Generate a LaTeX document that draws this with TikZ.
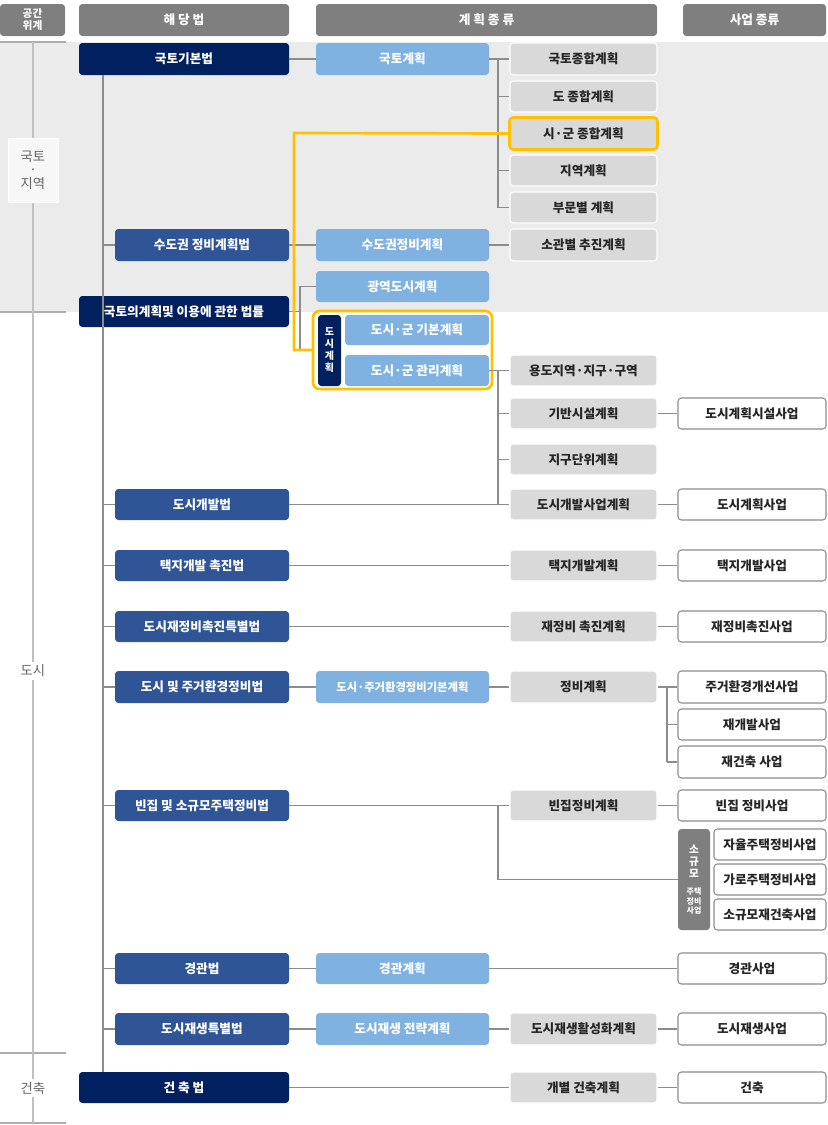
\documentclass[tikz,border=0pt]{standalone}
\usepackage{fontspec}
\setmainfont{Noto Sans CJK KR}
\begin{document}
\begin{tikzpicture}[x=0.75pt,y=-0.75pt,
 base/.style={rounded corners=2.5pt,inner sep=0pt,align=center,font=\bfseries\fontsize{9.5}{11}\selectfont},
 hdr/.style={base,fill=hdrgray,text=white},
 lawA/.style={base,fill=navy,text=white},
 lawB/.style={base,fill=midblue,text=white},
 planA/.style={base,fill=lightblue,text=white},
 planB/.style={base,fill=planfill,text=black!85,draw=white,line width=0.8pt},
 biz/.style={base,fill=white,draw=bizgray,line width=0.8pt,text=black!85},
 conn/.style={draw=conngray,line width=1.3pt},
 ]
\definecolor{hdrgray}{HTML}{7F7F7F}
\definecolor{navy}{HTML}{002060}
\definecolor{midblue}{HTML}{2F5597}
\definecolor{lightblue}{HTML}{7FB1E1}
\definecolor{planfill}{HTML}{D9D9D9}
\definecolor{bizgray}{HTML}{8C8C8C}
\definecolor{conngray}{HTML}{8C8C8C}
\definecolor{band}{HTML}{EBEBEB}
\definecolor{gold}{HTML}{FFC000}
\newcommand\bx[7]{\node[#2,minimum width=\fpeval{(#5-#3)*0.75}pt,minimum height=\fpeval{(#6-#4)*0.75}pt] (#1) at ({(#3+#5)/2},{(#4+#6)/2}) {#7};}
\useasboundingbox (0,0) rectangle (828,1125);
\fill[band] (0,42) rectangle (828,312);
% left column
\draw[conngray!70,line width=0.8pt] (0,42)--(66,42) (0,312)--(66,312) (0,1053)--(66,1053) (0,1123)--(66,1123);
\draw[conngray!55,line width=1pt] (33,42)--(33,1123);
\node[fill=white!60!band,draw=white,inner sep=0pt,minimum width=37.5pt,minimum height=48pt,align=center,text=black!60,font=\fontsize{10}{12}\selectfont] (lvl1) at (33,170) {국토\\[-2pt]·\\[-2pt]지역};
\node[fill=white,inner sep=2pt,text=black!60,font=\fontsize{10}{12}\selectfont] (lvl2) at (33,671) {도시};
\node[fill=white,inner sep=2pt,text=black!60,font=\fontsize{10}{12}\selectfont] (lvl3) at (33,1088) {건축};
% headers
\bx{h0}{hdr,font=\bfseries\fontsize{8}{9}\selectfont}{0}{4}{65}{36}{공간\\위계}
\bx{h1}{hdr}{79}{4}{289}{36}{해 당 법}
\bx{h2}{hdr}{316}{4}{657}{36}{계 획 종 류}
\bx{h3}{hdr}{683}{4}{826}{36}{사업 종류}
% laws
\bx{L1}{lawA}{79}{43}{289}{75}{국토기본법}
\bx{L2}{lawB}{115}{229}{289}{261}{수도권 정비계획법}
\bx{L3}{lawA}{79}{296}{289}{327}{국토의계획및 이용에 관한 법률}
\bx{L4}{lawB}{115}{489}{289}{520}{도시개발법}
\bx{L5}{lawB}{115}{550}{289}{581}{택지개발 촉진법}
\bx{L6}{lawB}{115}{611}{289}{642}{도시재정비촉진특별법}
\bx{L7}{lawB}{115}{671}{289}{703}{도시 및 주거환경정비법}
\bx{L8}{lawB}{115}{790}{289}{821}{빈집 및 소규모주택정비법}
\bx{L9}{lawB}{115}{953}{289}{984}{경관법}
\bx{L10}{lawB}{115}{1013}{289}{1045}{도시재생특별법}
\bx{L11}{lawA}{79}{1072}{289}{1103}{건 축 법}
% plan col 1
\bx{P1}{planA}{316}{43}{489}{75}{국토계획}
\bx{P2}{planA}{316}{229}{489}{261}{수도권정비계획}
\bx{P3}{planA}{316}{271}{489}{302}{광역도시계획}
\bx{P4}{planA}{345}{315}{489}{345}{도시·군 기본계획}
\bx{P5}{planA}{345}{355}{489}{386}{도시·군 관리계획}
\bx{P6}{planA,font=\bfseries\fontsize{8.5}{10}\selectfont}{316}{671}{489}{703}{도시·주거환경정비기본계획}
\bx{P7}{planA}{316}{953}{489}{984}{경관계획}
\bx{P8}{planA}{316}{1013}{489}{1045}{도시재생 전략계획}
\bx{DS}{lawA,font=\bfseries\fontsize{7.5}{9}\selectfont}{318}{315}{341}{386}{도\\시\\계\\획}
\draw[gold,line width=2pt,rounded corners=5pt] (313,311) rectangle (492,389);
\coordinate (Y) at (313,350);
% plan col 2
\bx{Q1}{planB}{510}{43}{657}{75}{국토종합계획}
\bx{Q2}{planB}{510}{81}{657}{112}{도 종합계획}
\bx{Q3}{planB}{510}{118}{657}{149}{시·군 종합계획}
\draw[gold,line width=2pt,rounded corners=3pt] (Q3.south west) rectangle (Q3.north east);
\bx{Q4}{planB}{510}{155}{657}{186}{지역계획}
\bx{Q5}{planB}{510}{192}{657}{223}{부문별 계획}
\bx{Q6}{planB}{510}{229}{657}{261}{소관별 추진계획}
\bx{Q7}{planB}{510}{355}{657}{386}{용도지역·지구·구역}
\bx{Q8}{planB}{510}{398}{657}{429}{기반시설계획}
\bx{Q9}{planB}{510}{444}{657}{475}{지구단위계획}
\bx{Q10}{planB}{510}{489}{657}{520}{도시개발사업계획}
\bx{Q11}{planB}{510}{550}{657}{581}{택지개발계획}
\bx{Q12}{planB}{510}{611}{657}{642}{재정비 촉진계획}
\bx{Q13}{planB}{510}{671}{657}{703}{정비계획}
\bx{Q14}{planB}{510}{790}{657}{821}{빈집정비계획}
\bx{Q15}{planB}{510}{1013}{657}{1045}{도시재생활성화계획}
\bx{Q16}{planB}{510}{1072}{657}{1103}{개별 건축계획}
% business
\bx{B1}{biz}{678}{398}{826}{429}{도시계획시설사업}
\bx{B2}{biz}{678}{489}{826}{520}{도시계획사업}
\bx{B3}{biz}{678}{550}{826}{581}{택지개발사업}
\bx{B4}{biz}{678}{611}{826}{642}{재정비촉진사업}
\bx{B5}{biz}{678}{671}{826}{703}{주거환경개선사업}
\bx{B6}{biz}{678}{709}{826}{740}{재개발사업}
\bx{B7}{biz}{678}{746}{826}{778}{재건축 사업}
\bx{B8}{biz}{678}{790}{826}{821}{빈집 정비사업}
\bx{SG}{base,fill=hdrgray,text=white,font=\bfseries\fontsize{8}{9}\selectfont}{678}{829}{710}{930}{소\\규\\모\\[4pt]{\fontsize{6}{7}\selectfont 주택}\\[-2pt]{\fontsize{6}{7}\selectfont 정비}\\[-2pt]{\fontsize{6}{7}\selectfont 사업}}
\bx{B9}{biz}{714}{829}{826}{860}{자율주택정비사업}
\bx{B10}{biz}{714}{864}{826}{895}{가로주택정비사업}
\bx{B11}{biz}{714}{899}{826}{930}{소규모재건축사업}
\bx{B12}{biz}{678}{953}{826}{984}{경관사업}
\bx{B13}{biz}{678}{1013}{826}{1045}{도시재생사업}
\bx{B14}{biz}{678}{1072}{826}{1103}{건축}
% connectors
\path[conn] (L1.south -| 103,0) -- (L11.north -| 103,0);
\foreach \l in {L2,L4,L5,L6,L7,L8,L9,L10} \path[conn] (\l.west -| 103,0) -- (\l.west);
\path[conn] (L1.east) -- (P1.west);
\path[conn] (P1.east) -- (Q1.west);
\path[conn] (Q1.west -| 498,0) -- (Q5.west -| 498,0);
\foreach \q in {Q2,Q3,Q4,Q5} \path[conn] (\q.west -| 498,0) -- (\q.west);
\path[conn] (L2.east) -- (P2.west) (P2.east) -- (Q6.west);
\path[conn] (L3.east) -- (L3.east -| 300,0);
\path[conn] (P3.west) -| (300,350) -- (Y);
\draw[gold,line width=2pt] (Q3.west) -- (294,133) |- (Y);
\path[conn] (P5.east) -- (Q7.west);
\path[conn] (Q7.west -| 498,0) -- (Q10.west -| 498,0);
\foreach \q in {Q8,Q9} \path[conn] (\q.west -| 498,0) -- (\q.west);
\path[conn] (L4.east) -- (Q10.west);
\path[conn] (Q8.east) -- (B1.west) (Q10.east) -- (B2.west);
\path[conn] (L5.east) -- (Q11.west) (Q11.east) -- (B3.west);
\path[conn] (L6.east) -- (Q12.west) (Q12.east) -- (B4.west);
\path[conn] (L7.east) -- (P6.west) (P6.east) -- (Q13.west) (Q13.east) -- (B5.west);
\path[conn] (B5.west -| 667,0) -- (B7.west -| 667,0);
\foreach \b in {B6,B7} \path[conn] (\b.west -| 667,0) -- (\b.west);
\path[conn] (L8.east) -- (Q14.west) (Q14.east) -- (B8.west);
\path[conn] (Q14.west -| 498,0) |- (SG.west);
\path[conn] (L9.east) -- (P7.west) (P7.east) -- (B12.west);
\path[conn] (L10.east) -- (P8.west) (P8.east) -- (Q15.west) (Q15.east) -- (B13.west);
\path[conn] (L11.east) -- (Q16.west) (Q16.east) -- (B14.west);
\end{tikzpicture}
\end{document}
